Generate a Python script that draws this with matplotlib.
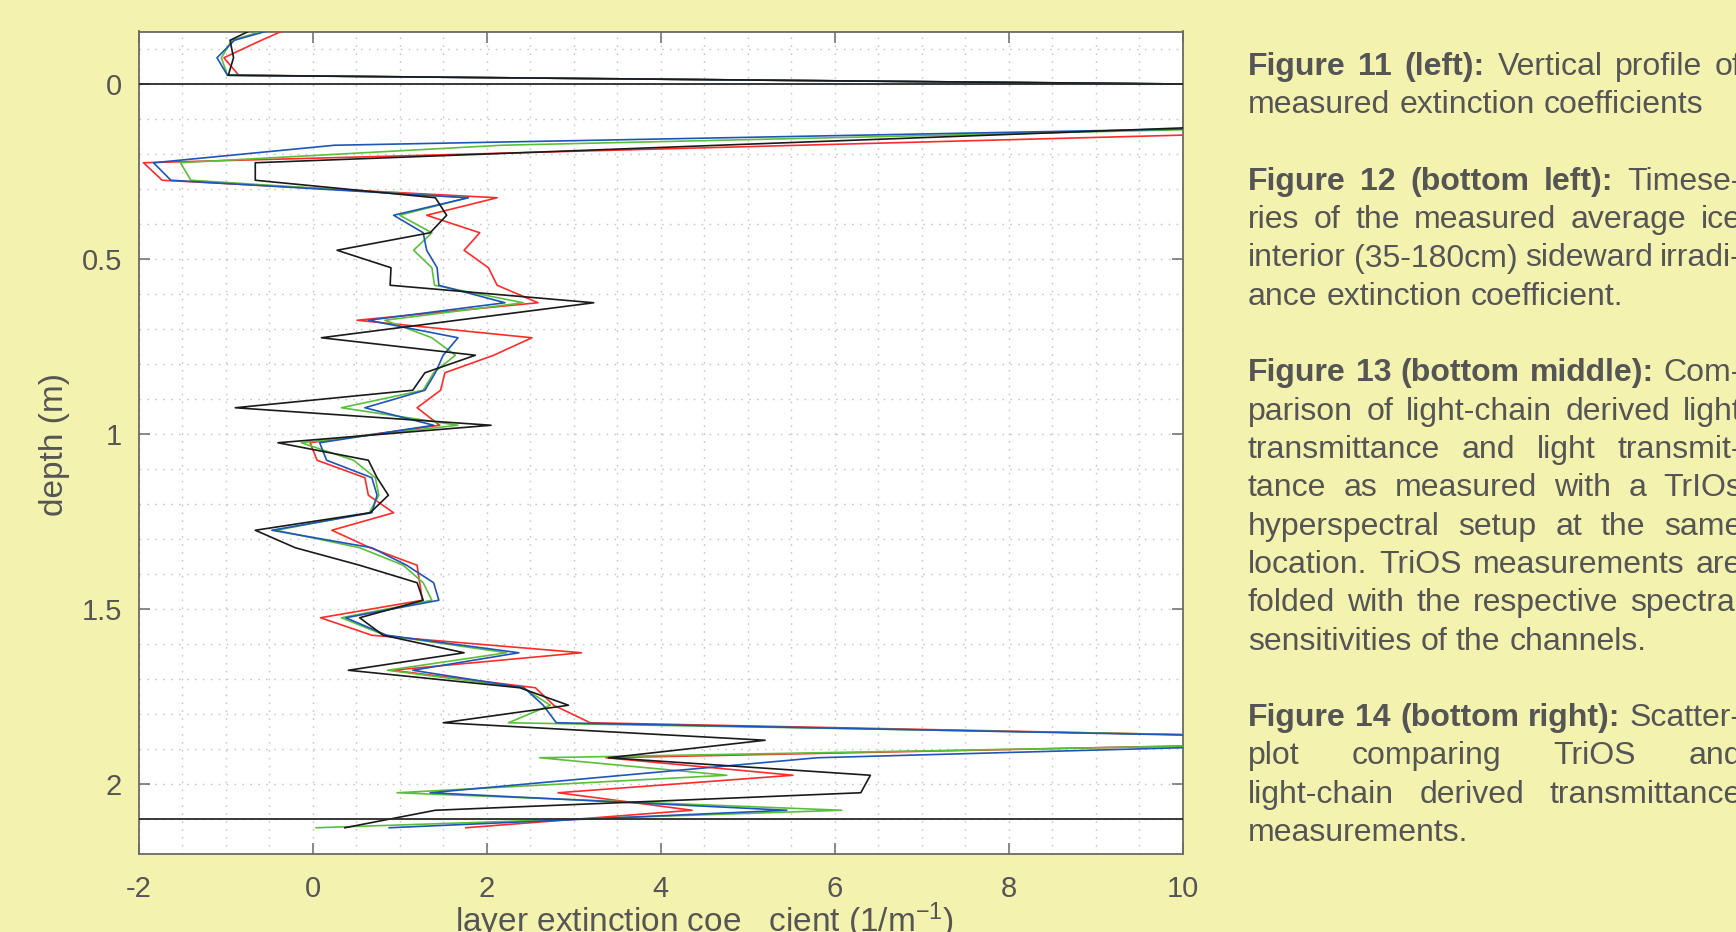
import matplotlib
matplotlib.use('Agg')
import matplotlib.pyplot as plt
from matplotlib.ticker import MultipleLocator, FixedLocator
from matplotlib.transforms import IdentityTransform

plt.rcParams['font.family'] = ['Liberation Sans', 'DejaVu Sans']
plt.rcParams['axes.unicode_minus'] = False
plt.rcParams['mathtext.fontset'] = 'custom'
plt.rcParams['mathtext.rm'] = 'Liberation Sans'
plt.rcParams['mathtext.it'] = 'Liberation Sans:italic'
plt.rcParams['mathtext.bf'] = 'Liberation Sans:bold'

# ---------------- data ----------------
depth = [-0.175, -0.125, -0.075, -0.025, 0.025, 0.075, 0.125, 0.175, 0.225, 0.275,
         0.325, 0.375, 0.425, 0.475, 0.525, 0.575, 0.625, 0.675, 0.725, 0.775,
         0.825, 0.875, 0.925, 0.975, 1.025, 1.075, 1.125, 1.175, 1.225, 1.275,
         1.325, 1.375, 1.425, 1.475, 1.525, 1.575, 1.625, 1.675, 1.725, 1.775,
         1.825, 1.875, 1.925, 1.975, 2.025, 2.075, 2.125]

k_black = [-0.53, -0.95, -0.91, -0.97, 21.0, 40.0, 10.05, 4.67, -0.66, -0.66,
           1.41, 1.54, 1.35, 0.28, 0.90, 0.89, 3.23, 1.66, 0.10, 1.87,
           1.29, 1.15, -0.89, 2.05, -0.40, 0.64, 0.74, 0.87, 0.66, -0.66,
           -0.20, 0.54, 1.20, 1.27, 0.54, 0.81, 1.74, 0.41, 2.38, 2.94,
           1.50, 5.20, 3.40, 6.41, 6.30, 1.41, 0.37]

k_blue = [-0.19, -0.90, -1.10, -0.98, 21.0, 40.0, 10.74, 0.25, -1.83, -1.63,
          1.79, 0.93, 1.27, 1.31, 1.43, 1.45, 2.21, 0.64, 1.67, 1.50,
          1.41, 1.29, 0.60, 1.39, 0.08, 0.16, 0.68, 0.74, 0.68, -0.47,
          0.68, 1.08, 1.39, 1.45, 0.38, 0.85, 2.37, 1.15, 2.43, 2.65,
          2.80, 13.1, 5.80, 3.57, 1.35, 5.45, 0.88]

k_green = [-0.25, -0.93, -1.05, -0.98, 21.0, 40.0, 11.0, 2.17, -1.52, -1.40,
           1.78, 1.00, 1.37, 1.16, 1.37, 1.40, 2.42, 0.83, 1.37, 1.64,
           1.39, 1.27, 0.33, 1.67, -0.13, 0.47, 0.72, 0.76, 0.65, -0.42,
           0.54, 1.04, 1.27, 1.37, 0.33, 0.83, 2.23, 0.86, 2.42, 2.73,
           2.25, 13.8, 2.61, 4.76, 0.97, 6.08, 0.04]

k_red = [-0.13, -0.59, -1.02, -0.85, 20.5, 40.0, 13.2, 5.6, -1.945, -1.73,
         2.12, 1.31, 1.92, 1.74, 2.02, 2.12, 2.59, 0.51, 2.52, 2.08,
         1.52, 1.47, 1.20, 1.46, -0.03, 0.05, 0.60, 0.64, 0.93, 0.22,
         0.66, 1.20, 1.23, 1.26, 0.09, 0.68, 3.09, 0.91, 2.56, 2.77,
         3.19, 13.2, 3.37, 5.52, 2.82, 4.36, 1.76]

ref_depths = [0.0, 2.1]

x_ticks = [-2, 0, 2, 4, 6, 8, 10]
y_ticks = [0, 0.5, 1, 1.5, 2]
y_ticklabels = ['0', '0.5', '1', '1.5', '2']

caption = [
    (0, [("Figure", 1), ("11", 1), ("(left):", 1), ("Vertical", 0), ("profile", 0), ("of", 0)], True),
    (1, [("measured", 0), ("extinction", 0), ("coefficients", 0)], False),
    (3, [("Figure", 1), ("12", 1), ("(bottom", 1), ("left):", 1), ("Timese-", 0)], True),
    (4, [("ries", 0), ("of", 0), ("the", 0), ("measured", 0), ("average", 0), ("ice", 0)], True),
    (5, [("interior", 0), ("(35-180cm)", 0), ("sideward", 0), ("irradi-", 0)], True),
    (6, [("ance", 0), ("extinction", 0), ("coefficient.", 0)], False),
    (8, [("Figure", 1), ("13", 1), ("(bottom", 1), ("middle):", 1), ("Com-", 0)], True),
    (9, [("parison", 0), ("of", 0), ("light-chain", 0), ("derived", 0), ("light", 0)], True),
    (10, [("transmittance", 0), ("and", 0), ("light", 0), ("transmit-", 0)], True),
    (11, [("tance", 0), ("as", 0), ("measured", 0), ("with", 0), ("a", 0), ("TrIOs", 0)], True),
    (12, [("hyperspectral", 0), ("setup", 0), ("at", 0), ("the", 0), ("same", 0)], True),
    (13, [("location.", 0), ("TriOS", 0), ("measurements", 0), ("are", 0)], True),
    (14, [("folded", 0), ("with", 0), ("the", 0), ("respective", 0), ("spectral", 0)], True),
    (15, [("sensitivities", 0), ("of", 0), ("the", 0), ("channels.", 0)], False),
    (17, [("Figure", 1), ("14", 1), ("(bottom", 1), ("right):", 1), ("Scatter-", 0)], True),
    (18, [("plot", 0), ("comparing", 0), ("TriOS", 0), ("and", 0)], True),
    (19, [("light-chain", 0), ("derived", 0), ("transmittance", 0)], True),
    (20, [("measurements.", 0)], False),
]

# ---------------- style ----------------
W, H = 1736, 932
BG = '#F4F2AF'
TXT = '#555555'
AXC = '#6a6a6a'
C_RED = '#ff2b2b'
C_BLUE = '#1f55b8'
C_GREEN = '#5cbf3c'
C_BLACK = '#1a1a1a'

fig = plt.figure(figsize=(W / 100, H / 100), dpi=100, facecolor=BG)
ax_l, ax_r, ax_t, ax_b = 138.7, 1182.7, 31.5, 854.0
ax = fig.add_axes([ax_l / W, 1 - ax_b / H, (ax_r - ax_l) / W, (ax_b - ax_t) / H])
ax.set_facecolor('white')

for vals, col in [(k_red, C_RED), (k_green, C_GREEN), (k_blue, C_BLUE), (k_black, C_BLACK)]:
    ax.plot(vals, depth, color=col, lw=1.2, zorder=3)
for d in ref_depths:
    ax.axhline(d, color='#2a2a2a', lw=1.3, zorder=4)

ax.set_xlim(-2, 10)
ax.set_ylim(2.2, -0.15)
ax.xaxis.set_major_locator(FixedLocator(x_ticks))
ax.xaxis.set_minor_locator(MultipleLocator(0.5))
ax.yaxis.set_major_locator(FixedLocator(y_ticks))
ax.yaxis.set_minor_locator(MultipleLocator(0.1))
ax.set_xticklabels([str(v) for v in x_ticks])
ax.set_yticklabels(y_ticklabels)
ax.grid(which='both', color='#c6c6c6', linestyle=(0, (1.2, 4.5)), lw=1.0, zorder=1)
ax.set_axisbelow(True)
ax.tick_params(which='major', direction='in', length=8, width=1.1, color=AXC,
               top=True, right=True, labelsize=21, labelcolor=TXT)
ax.tick_params(which='minor', length=0, top=True, right=True)
ax.tick_params(axis='x', pad=15)
ax.tick_params(axis='y', pad=12)
for s in ax.spines.values():
    s.set_color(AXC)
    s.set_linewidth(1.3)

# axis labels
fig.text(54 / W, 1 - 445 / H, 'depth (m)', rotation=90, ha='center', va='center',
         fontsize=24, color=TXT)
fig.text(455 / W, 1 - 932 / H, 'layer extinction coe   cient (1/m$^{-1}$)', ha='left',
         va='baseline', fontsize=24, color=TXT)

# caption text, justified
renderer = fig.canvas.get_renderer()
FS = 23
XL, XR = 1248.0, 1742.0
BASE0, LSTEP = 75.0, 38.3
space_w = 0.278 * FS * 100 / 72
for idx, words, justify in caption:
    y = H - (BASE0 + idx * LSTEP)
    texts, widths = [], []
    for w, b in words:
        t = fig.text(0, 0, w, fontsize=FS, fontweight='bold' if b else 'normal',
                     color=TXT, ha='left', va='baseline', transform=IdentityTransform())
        widths.append(t.get_window_extent(renderer).width)
        texts.append(t)
    n = len(words)
    gap = (XR - XL - sum(widths)) / (n - 1) if (justify and n > 1) else space_w
    x = XL
    for t, wd in zip(texts, widths):
        t.set_position((x, y))
        x += wd + gap

fig.savefig('out.png', dpi=100, facecolor=BG)
